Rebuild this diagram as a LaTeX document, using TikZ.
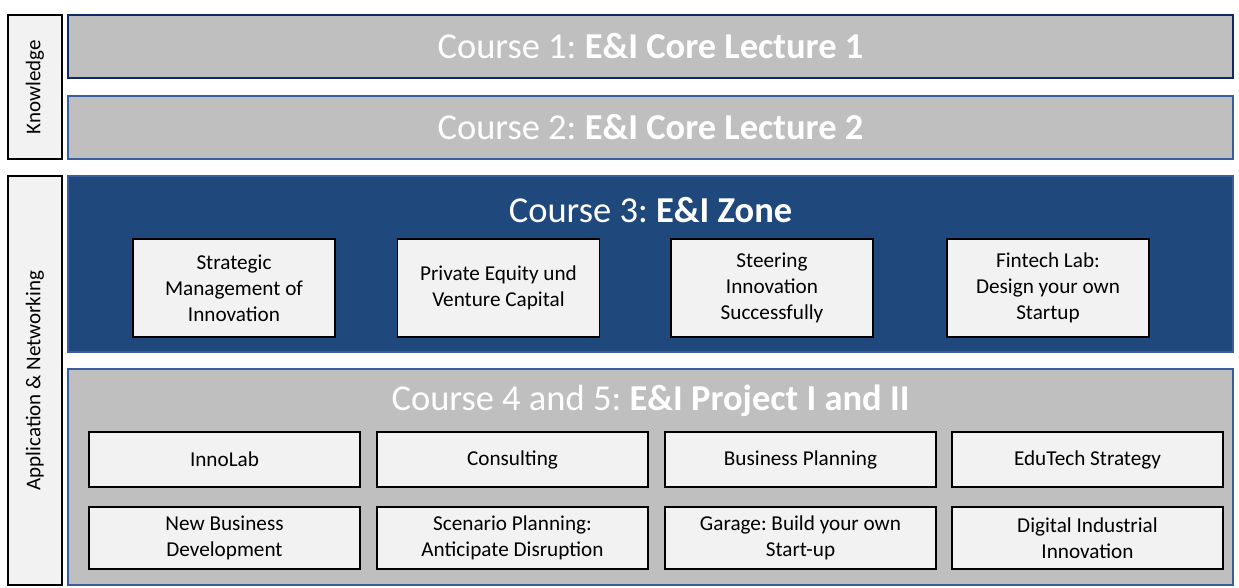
\documentclass[tikz,border=0pt]{standalone}
\usepackage{fontspec}
\setmainfont{Carlito}
\frenchspacing
\definecolor{boxgray}{HTML}{BFBFBF}
\definecolor{lightfill}{HTML}{F2F2F2}
\definecolor{navy}{HTML}{0E2A62}
\definecolor{steel}{HTML}{3A5E9C}
\definecolor{zoneblue}{HTML}{1F497D}
\begin{document}
\begin{tikzpicture}[x=1pt,y=-1pt,
  coursebox/.style={rectangle, fill=boxgray, line width=2.2pt, inner sep=0pt},
  sidebox/.style={rectangle, fill=lightfill, draw=black, line width=1.4pt, inner sep=0pt, minimum width=54pt},
  sidetext/.style={font=\fontsize{21}{25}\selectfont, rotate=90},
  subbox/.style={rectangle, fill=lightfill, draw=black, line width=1.4pt, inner sep=0pt, align=center,
    font=\fontsize{21.2}{25.8}\selectfont},
  title/.style={text=white, font=\fontsize{36.5}{42}\selectfont, inner sep=0pt}
]
\useasboundingbox (0,0) rectangle (1239,587);
% side labels
\node[sidebox, minimum height=144pt] (know) at (35,87) {};
\node[sidetext] (knowt) at (know.center) {Knowledge};
\node[sidebox, minimum height=409pt] (app) at (35,380.5) {};
\node[sidetext] (appt) at (app.center) {Application \& Networking};
% course boxes
\node[coursebox, draw=navy, minimum width=1165pt, minimum height=63pt] (c1) at (650.5,46.5) {};
\node[title] (c1t) at (c1.center) {Course 1: \textbf{E\&I Core Lecture 1}};
\node[coursebox, draw=steel, minimum width=1165pt, minimum height=63pt] (c2) at (650.5,127.5) {};
\node[title] (c2t) at (c2.center) {Course 2: \textbf{E\&I Core Lecture 2}};
\node[rectangle, fill=zoneblue, draw=steel, line width=1.2pt, inner sep=0pt, minimum width=1165pt, minimum height=176pt] (c3) at (650.5,264) {};
\node[title] (c3t) at (650.5,210) {Course 3: \textbf{E\&I Zone}};
\node[coursebox, draw=steel, line width=1.8pt, minimum width=1165pt, minimum height=216pt] (c4) at (650.5,477) {};
\node[title] (c4t) at (650.5,401) {Course 4 and 5: \textbf{E\&I Project I and II}};
% zone sub boxes
\begin{scope}[every node/.append style={subbox, minimum width=202pt, minimum height=98pt}]
\node (z1) at (234,288) {Strategic\\Management of\\Innovation};
\node (z2) at (498.5,288) {Private Equity und\\Venture Capital};
\node (z3) at (772,288) {Steering\\Innovation\\Successfully};
\node (z4) at (1048,288) {Fintech Lab:\\Design your own\\Startup};
\end{scope}
% project sub boxes
\begin{scope}[every node/.append style={subbox, minimum width=271pt, minimum height=55pt}]
\node (p1) at (224.5,459.5) {InnoLab};
\node (p2) at (512.5,459.5) {Consulting};
\node (p3) at (800.5,459.5) {Business Planning};
\node (p4) at (1087.5,459.5) {EduTech Strategy};
\end{scope}
\begin{scope}[every node/.append style={subbox, minimum width=271pt, minimum height=62pt}]
\node (q1) at (224.5,538) {New Business\\Development};
\node (q2) at (512.5,538) {Scenario Planning:\\Anticipate Disruption};
\node (q3) at (800.5,538) {Garage: Build your own\\Start-up};
\node (q4) at (1087.5,538) {Digital Industrial\\Innovation};
\end{scope}
\end{tikzpicture}
\end{document}
